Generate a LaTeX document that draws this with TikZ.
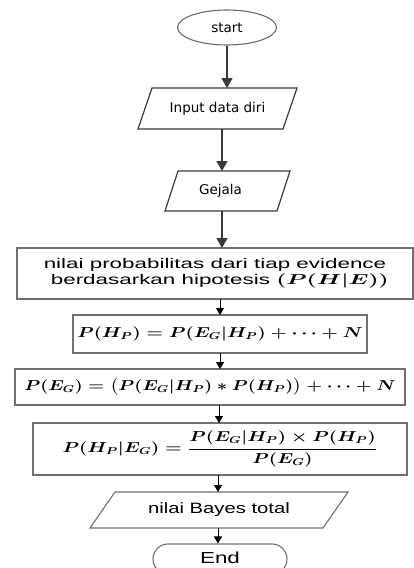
\documentclass[tikz,border=0pt]{standalone}
\usepackage{fontspec}
\usepackage{amsmath}
\usepackage{graphicx}
\setmainfont{Liberation Sans}
\newfontfamily\djv{DejaVu Sans}
\usetikzlibrary{arrows.meta,shapes.geometric}
\definecolor{upline}{HTML}{3A3A3A}
\definecolor{ellline}{HTML}{6A6A6A}
\definecolor{boxline}{HTML}{707070}
\newcommand\hs[2]{\scalebox{#1}[1]{#2}}
\newcommand\mf{\fontsize{14.5}{16}\selectfont\boldmath}
\begin{document}
\begin{tikzpicture}[x=1pt,y=-1pt,
  upfont/.style={font=\djv\fontsize{13.5}{15}\selectfont},
  lowfont/.style={font=\fontsize{14}{15}\selectfont},
  ghost/.style={inner sep=0pt, outer sep=0pt},
  procbox/.style={draw=boxline, line width=1.1pt, inner sep=0pt, outer sep=0pt},
  ioline/.style={draw=upline, line width=1.2pt, line join=miter},
  iolow/.style={draw=boxline, line width=1.1pt, line join=miter},
  bigarr/.style={draw=upline, line width=1.4pt, -{Triangle[width=11pt,length=10pt]}},
  smallarr/.style={draw=black, line width=0.9pt, -{Triangle[width=8pt,length=7pt]}},
]
\useasboundingbox (0,0) rectangle (414,568);

% start
\node[ellipse, draw=ellline, line width=1.1pt, minimum width=99pt, minimum height=35pt, inner sep=0pt, upfont] (start) at (227,27.5) {start};

% input data diri
\node[ghost, minimum width=159pt, minimum height=41pt, upfont] (inp) at (217.5,108.5) {Input data diri};
\draw[ioline] (inp.south west) -- ([xshift=14pt]inp.north west) -- (inp.north east) -- ([xshift=-14pt]inp.south east) -- cycle;

% gejala
\node[ghost, minimum width=125pt, minimum height=40pt, upfont] (gej) at (227.5,191) {\hspace*{-14pt}Gejala};
\draw[ioline] (gej.south west) -- ([xshift=13pt]gej.north west) -- (gej.north east) -- ([xshift=-13pt]gej.south east) -- cycle;

% box 1
\node[procbox, minimum width=396pt, minimum height=51pt, lowfont, align=center] (b1) at (215,273.5)
  {\hs{1.6}{nilai probabilitas dari tiap evidence}\\[1pt]
   \hs{1.6}{\hspace*{6pt}berdasarkan hipotesis {\mf$(P(H|E))$}}};

% box 2
\node[procbox, minimum width=294pt, minimum height=38pt] (b2) at (220,334)
  {\hs{1.3}{\mf$P(H_P) = P(E_G|H_P) + \cdots + N$}};

% box 3
\node[procbox, minimum width=390pt, minimum height=36pt] (b3) at (210,387)
  {\hs{1.26}{\mf$P(E_G) = \bigl(P(E_G|H_P) \ast P(H_P)\bigr) + \cdots + N$}};

% box 4
\node[procbox, minimum width=374pt, minimum height=52pt] (b4) at (220,449)
  {\hs{1.3}{\mf$P(H_P|E_G) = \dfrac{P(E_G|H_P) \times P(H_P)}{P(E_G)}$}};

% output
\node[ghost, minimum width=258pt, minimum height=36pt, lowfont] (out) at (219,510) {\hs{1.35}{\fontsize{15}{15}\selectfont nilai Bayes total}};
\draw[iolow] (out.south west) -- ([xshift=25pt]out.north west) -- (out.north east) -- ([xshift=-25pt]out.south east) -- cycle;

% end
\node[draw=boxline, line width=1.1pt, rounded corners=15pt, minimum width=134pt, minimum height=30pt, inner sep=0pt] (end) at (220,559)
  {\raisebox{2pt}{\hs{1.4}{\fontsize{16}{16}\selectfont End}}};

% connectors
\draw[bigarr] (start.south) -- (start.south |- inp.north);
\draw[bigarr] ([xshift=4.5pt]inp.south) -- ([xshift=4.5pt]inp.south |- gej.north);
\draw[bigarr] ([xshift=-5.5pt]gej.south) -- ([xshift=-5.5pt]gej.south |- b1.north);
\draw[smallarr] (b2.north |- b1.south) -- (b2.north);
\draw[smallarr] (b2.south) -- (b2.south |- b3.north);
\draw[smallarr] ([xshift=-1pt]b4.north |- b3.south) -- ([xshift=-1pt]b4.north);
\draw[smallarr] ([xshift=-2pt]b4.south) -- ([xshift=-2pt]b4.south |- out.north);
\draw[smallarr] ([xshift=-2pt]end.north |- out.south) -- ([xshift=-2pt]end.north);
\end{tikzpicture}
\end{document}
